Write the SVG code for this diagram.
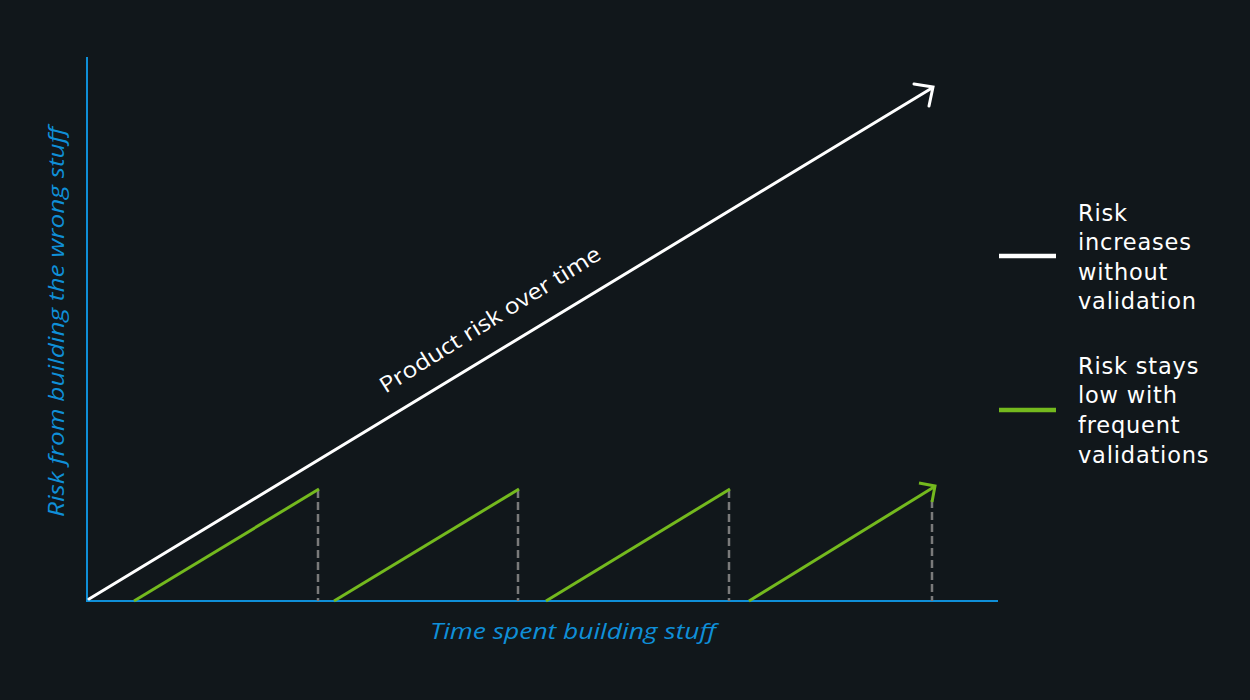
<svg xmlns="http://www.w3.org/2000/svg" width="1250" height="700" viewBox="0 0 1250 700">
<style>
.axis{stroke:#0f8fd8;stroke-width:2;fill:none}
.white{stroke:#ffffff;stroke-width:3;fill:none;stroke-linecap:round}
.green{stroke:#74b91e;stroke-width:3;fill:none}
.dash{stroke:#7a7a7a;stroke-width:2.5;stroke-dasharray:8 4;fill:none}
.axlabel{font-family:"Open Sans","Noto Sans",sans-serif;font-style:italic;font-size:22px;fill:#0f8fd8}
.legend{font-family:"DejaVu Sans","Open Sans",sans-serif;font-size:22.5px;letter-spacing:0.8px;fill:#ffffff}
</style>
<rect width="1250" height="700" fill="#11171b"/>
<g id="axes">
<line class="axis" x1="87" y1="57" x2="87" y2="602"/>
<line class="axis" x1="86" y1="601" x2="998" y2="601"/>
<text class="axlabel" x="573" y="639" text-anchor="middle" textLength="286" lengthAdjust="spacingAndGlyphs">Time spent building stuff</text>
<text class="axlabel" transform="translate(64,322) rotate(-90)" text-anchor="middle" textLength="390" lengthAdjust="spacingAndGlyphs">Risk from building the wrong stuff</text>
</g>
<g id="connectors">
<g id="risk-line">
<line class="white" x1="89" y1="599" x2="932" y2="88"/>
<polyline class="white" points="914,84 933,87 929,106"/>
<text transform="translate(494,326) rotate(-32)" text-anchor="middle" font-family="'Open Sans','Noto Sans',sans-serif" font-size="22" fill="#ffffff" textLength="256" lengthAdjust="spacingAndGlyphs">Product risk over time</text>
</g>
<g id="validation-lines">
<line class="dash" x1="318" y1="490" x2="318" y2="601"/>
<line class="dash" x1="518" y1="490" x2="518" y2="601"/>
<line class="dash" x1="729" y1="490" x2="729" y2="601"/>
<line class="dash" x1="932" y1="500" x2="932" y2="601"/>
<line class="green" x1="134" y1="601" x2="319" y2="489"/>
<line class="green" x1="334" y1="601" x2="519" y2="489"/>
<line class="green" x1="546" y1="601" x2="730" y2="489"/>
<line class="green" x1="749" y1="601" x2="934" y2="487"/>
<polyline class="green" points="919,483 935,486 932,502"/>
</g>
</g>
<g id="legend-white">
<line x1="999" y1="256" x2="1056" y2="256" stroke="#ffffff" stroke-width="4.5"/>
<text class="legend" x="1078"><tspan x="1078" y="221">Risk</tspan><tspan x="1078" y="250">increases</tspan><tspan x="1078" y="280">without</tspan><tspan x="1078" y="309">validation</tspan></text>
</g>
<g id="legend-green">
<line x1="999" y1="410" x2="1056" y2="410" stroke="#74b91e" stroke-width="4.5"/>
<text class="legend" x="1078"><tspan x="1078" y="374">Risk stays</tspan><tspan x="1078" y="403">low with</tspan><tspan x="1078" y="433">frequent</tspan><tspan x="1078" y="463">validations</tspan></text>
</g>
</svg>
